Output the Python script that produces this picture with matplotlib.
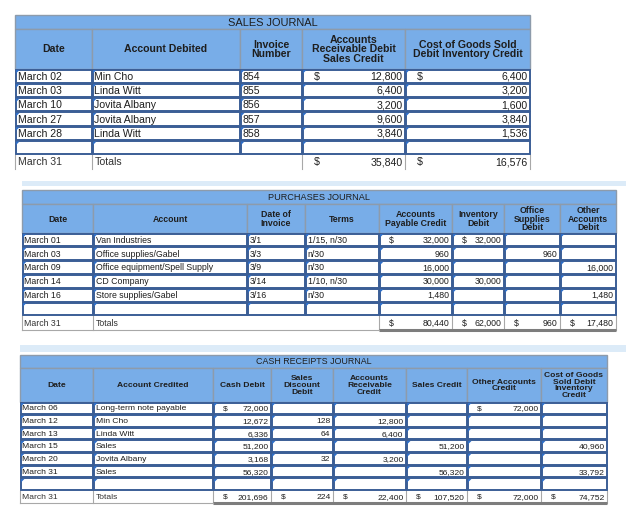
import matplotlib
matplotlib.use("Agg")
import matplotlib.pyplot as plt
from matplotlib.patches import Rectangle, Polygon

plt.rcParams['font.family'] = ['Liberation Sans', 'DejaVu Sans']

# ---------------- DATA ----------------
sales_title = "SALES JOURNAL"
sales_headers = ["Date", "Account Debited", "Invoice\nNumber",
                 "Accounts\nReceivable Debit\nSales Credit",
                 "Cost of Goods Sold\nDebit Inventory Credit"]
sales_dates = ["March 02", "March 03", "March 10", "March 27", "March 28"]
sales_accounts = ["Min Cho", "Linda Witt", "Jovita Albany", "Jovita Albany", "Linda Witt"]
sales_invoices = ["854", "855", "856", "857", "858"]
sales_ar = [12800, 6400, 3200, 9600, 3840]
sales_cogs = [6400, 3200, 1600, 3840, 1536]
sales_totals = [None, None, None, 35840, 16576]

purch_title = "PURCHASES JOURNAL"
purch_headers = ["Date", "Account", "Date of\nInvoice", "Terms",
                 "Accounts\nPayable Credit", "Inventory\nDebit",
                 "Office\nSupplies\nDebit", "Other\nAccounts\nDebit"]
purch_dates = ["March 01", "March 03", "March 09", "March 14", "March 16"]
purch_accounts = ["Van Industries", "Office supplies/Gabel",
                  "Office equipment/Spell Supply", "CD Company", "Store supplies/Gabel"]
purch_invoice_dates = ["3/1", "3/3", "3/9", "3/14", "3/16"]
purch_terms = ["1/15, n/30", "n/30", "n/30", "1/10, n/30", "n/30"]
purch_ap = [32000, 960, 16000, 30000, 1480]
purch_inventory = [32000, None, None, 30000, None]
purch_office = [None, 960, None, None, None]
purch_other = [None, None, 16000, None, 1480]
purch_totals = [None, None, None, None, 80440, 62000, 960, 17480]

cash_title = "CASH RECEIPTS JOURNAL"
cash_headers = ["Date", "Account Credited", "Cash Debit", "Sales\nDiscount\nDebit",
                "Accounts\nReceivable\nCredit", "Sales Credit",
                "Other Accounts\nCredit", "Cost of Goods\nSold Debit\nInventory\nCredit"]
cash_dates = ["March 06", "March 12", "March 13", "March 15", "March 20", "March 31"]
cash_accounts = ["Long-term note payable", "Min Cho", "Linda Witt", "Sales",
                 "Jovita Albany", "Sales"]
cash_debit = [72000, 12672, 6336, 51200, 3168, 56320]
cash_discount = [None, 128, 64, None, 32, None]
cash_ar = [None, 12800, 6400, None, 3200, None]
cash_sales = [None, None, None, 51200, None, 56320]
cash_other = [72000, None, None, None, None, None]
cash_cogs = [None, None, None, 40960, None, 33792]
cash_totals = [None, None, 201696, 224, 22400, 107520, 72000, 74752]

totals_date = "March 31"
totals_label = "Totals"

# ---------------- STYLE ----------------
HEAD_BG = "#78ade8"
HEAD_EDGE = "#8d9bab"
CELL_EDGE = "#3b5e96"
MARK = "#2f6ec6"
TXT = "#1e1e1e"
GRAY = "#a8a8a8"
BAND = "#dcebf8"

fig = plt.figure(figsize=(6.26, 5.07), dpi=100)
ax = fig.add_axes([0, 0, 1, 1])
ax.set_xlim(0, 626)
ax.set_ylim(507, 0)
ax.axis("off")


def fmt(v):
    return f"{v:,}"


def draw_table(xe, top, title, title_h, headers, header_h, columns, kinds,
               row_h, totals, fs, dollar_off, thick=True):
    left, right = xe[0], xe[-1]
    # title row
    ax.add_patch(Rectangle((left, top), right - left, title_h, fc=HEAD_BG,
                           ec=HEAD_EDGE, lw=1.0))
    ax.text((left + right) / 2, top + title_h / 2 + 0.5, title, ha="center",
            va="center", fontsize=fs + 0.3, color=TXT)
    # header row
    y0 = top + title_h
    for i, h in enumerate(headers):
        ax.add_patch(Rectangle((xe[i], y0), xe[i + 1] - xe[i], header_h,
                               fc=HEAD_BG, ec=HEAD_EDGE, lw=1.0))
        ax.text((xe[i] + xe[i + 1]) / 2, y0 + header_h / 2 + 0.5, h,
                ha="center", va="center", fontsize=fs, fontweight="bold",
                color=TXT, linespacing=0.95)
    # body rows (data + one blank)
    y = y0 + header_h
    nrows = len(columns[0]) + 1
    for r in range(nrows):
        for c in range(len(xe) - 1):
            x0, x1 = xe[c], xe[c + 1]
            ax.add_patch(Rectangle((x0 + 0.5, y + 0.5), x1 - x0 - 1, row_h - 1,
                                   fc="white", ec=CELL_EDGE, lw=1.4))
            ax.add_patch(Polygon([(x0 + 1, y + 1), (x0 + 4.5, y + 1),
                                  (x0 + 1, y + 4.5)], closed=True, fc=MARK,
                                 ec="none"))
            if r < nrows - 1:
                v = columns[c][r]
                if v is None:
                    continue
                yc = y + row_h / 2 + 0.5
                if kinds[c] == "text":
                    ax.text(x0 + 2.5, yc, v, ha="left", va="center",
                            fontsize=fs, color=TXT)
                else:
                    ax.text(x1 - 2.5, yc, fmt(v), ha="right", va="center",
                            fontsize=fs, color=TXT)
                    if r == 0:
                        ax.text(x0 + dollar_off, yc, "$", ha="left",
                                va="center", fontsize=fs, color=TXT)
        y += row_h
    # totals row
    yc = y + row_h / 2 + 0.5
    ax.text(xe[0] + 2.5, yc, totals_date, ha="left", va="center", fontsize=fs,
            color="#333333")
    ax.text(xe[1] + 2.5, yc, totals_label, ha="left", va="center", fontsize=fs,
            color="#333333")
    first_num = next(i for i, t in enumerate(totals) if t is not None)
    vlines = [xe[0], xe[1]] + xe[first_num:]
    for xv in vlines:
        ax.plot([xv, xv], [y, y + row_h], color=GRAY, lw=0.8)
    for c, t in enumerate(totals):
        if t is None:
            continue
        x0, x1 = xe[c], xe[c + 1]
        ax.text(x1 - 2.5, yc, fmt(t), ha="right", va="center", fontsize=fs,
                color=TXT)
        ax.text(x0 + dollar_off, yc, "$", ha="left", va="center", fontsize=fs,
                color=TXT)
    if thick:
        ax.plot([xe[first_num], xe[-1]], [y + row_h, y + row_h],
                color="#7d7d7d", lw=2.2, solid_capstyle="butt")
        ax.plot([xe[0], xe[first_num]], [y + row_h, y + row_h], color=GRAY,
                lw=0.8)


# Sales journal
sales_x = [15, 92, 240, 302, 405, 530]
draw_table(sales_x, 15, sales_title, 14, sales_headers, 40,
           [sales_dates, sales_accounts, sales_invoices, sales_ar, sales_cogs],
           ["text", "text", "text", "num", "num"], 14.3, sales_totals, 7.6,
           12, thick=False)

# light bands
ax.add_patch(Rectangle((22, 180.5), 604, 5.5, fc=BAND, ec="none"))
ax.add_patch(Rectangle((20, 345), 606, 6.5, fc=BAND, ec="none"))

# Purchases journal
purch_x = [22, 93, 247, 305, 379, 452, 504, 560, 616]
draw_table(purch_x, 190, purch_title, 14, purch_headers, 29,
           [purch_dates, purch_accounts, purch_invoice_dates, purch_terms,
            purch_ap, purch_inventory, purch_office, purch_other],
           ["text", "text", "text", "text", "num", "num", "num", "num"],
           13.8, purch_totals, 6.3, 9.5)

# Cash receipts journal
cash_x = [20, 93, 213, 271, 333, 406, 467, 541, 607]
draw_table(cash_x, 355, cash_title, 13, cash_headers, 34,
           [cash_dates, cash_accounts, cash_debit, cash_discount, cash_ar,
            cash_sales, cash_other, cash_cogs],
           ["text", "text", "num", "num", "num", "num", "num", "num"],
           12.65, cash_totals, 6.1, 10)

fig.savefig("out.png", dpi=100)
